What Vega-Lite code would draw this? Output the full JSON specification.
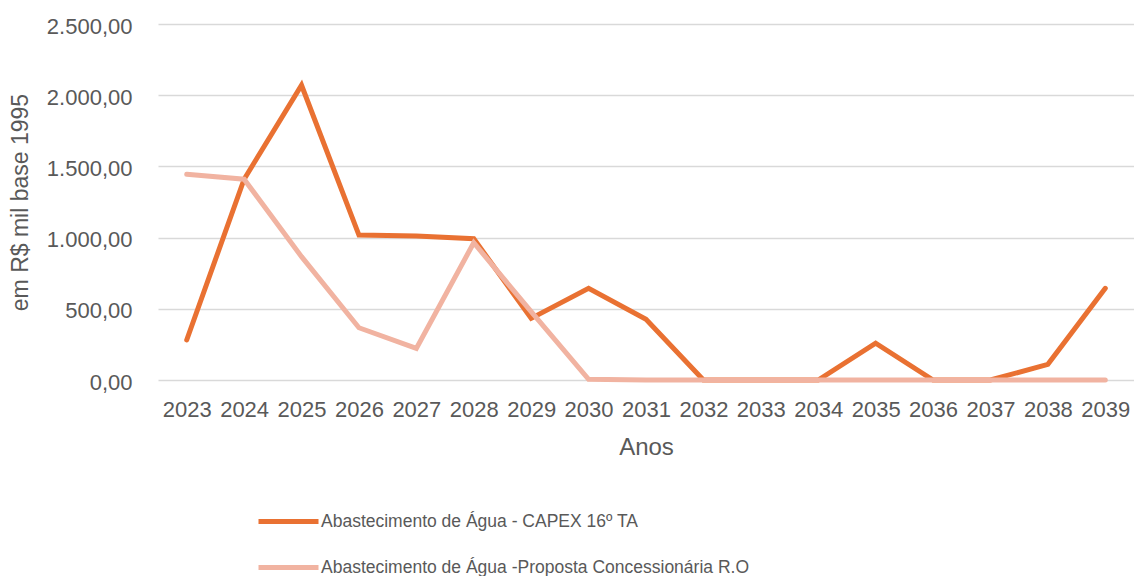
{
  "$schema": "https://vega.github.io/schema/vega-lite/v6.json",
  "width": 976,
  "height": 356,
  "autosize": {"type": "none"},
  "padding": {"left": 158, "top": 24, "right": 0, "bottom": 196},
  "background": "white",
  "config": {
    "font": "Liberation Sans",
    "view": {"stroke": null},
    "axis": {"labelColor": "#595959", "titleColor": "#595959", "labelFont": "Liberation Sans", "titleFont": "Liberation Sans", "titleFontWeight": "normal"}
  },
  "data": {
    "values": [
      {"ano": "2023", "serie": "Abastecimento de Água - CAPEX 16º TA", "valor": 281},
      {"ano": "2024", "serie": "Abastecimento de Água - CAPEX 16º TA", "valor": 1410},
      {"ano": "2025", "serie": "Abastecimento de Água - CAPEX 16º TA", "valor": 2070},
      {"ano": "2026", "serie": "Abastecimento de Água - CAPEX 16º TA", "valor": 1018},
      {"ano": "2027", "serie": "Abastecimento de Água - CAPEX 16º TA", "valor": 1011},
      {"ano": "2028", "serie": "Abastecimento de Água - CAPEX 16º TA", "valor": 992},
      {"ano": "2029", "serie": "Abastecimento de Água - CAPEX 16º TA", "valor": 433},
      {"ano": "2030", "serie": "Abastecimento de Água - CAPEX 16º TA", "valor": 644},
      {"ano": "2031", "serie": "Abastecimento de Água - CAPEX 16º TA", "valor": 426},
      {"ano": "2032", "serie": "Abastecimento de Água - CAPEX 16º TA", "valor": 0},
      {"ano": "2033", "serie": "Abastecimento de Água - CAPEX 16º TA", "valor": 0},
      {"ano": "2034", "serie": "Abastecimento de Água - CAPEX 16º TA", "valor": 0},
      {"ano": "2035", "serie": "Abastecimento de Água - CAPEX 16º TA", "valor": 258},
      {"ano": "2036", "serie": "Abastecimento de Água - CAPEX 16º TA", "valor": 0},
      {"ano": "2037", "serie": "Abastecimento de Água - CAPEX 16º TA", "valor": 0},
      {"ano": "2038", "serie": "Abastecimento de Água - CAPEX 16º TA", "valor": 110},
      {"ano": "2039", "serie": "Abastecimento de Água - CAPEX 16º TA", "valor": 644},
      {"ano": "2023", "serie": "Abastecimento de Água -Proposta Concessionária R.O", "valor": 1445},
      {"ano": "2024", "serie": "Abastecimento de Água -Proposta Concessionária R.O", "valor": 1410},
      {"ano": "2025", "serie": "Abastecimento de Água -Proposta Concessionária R.O", "valor": 866},
      {"ano": "2026", "serie": "Abastecimento de Água -Proposta Concessionária R.O", "valor": 367},
      {"ano": "2027", "serie": "Abastecimento de Água -Proposta Concessionária R.O", "valor": 222},
      {"ano": "2028", "serie": "Abastecimento de Água -Proposta Concessionária R.O", "valor": 964},
      {"ano": "2029", "serie": "Abastecimento de Água -Proposta Concessionária R.O", "valor": 480},
      {"ano": "2030", "serie": "Abastecimento de Água -Proposta Concessionária R.O", "valor": 5},
      {"ano": "2031", "serie": "Abastecimento de Água -Proposta Concessionária R.O", "valor": 0},
      {"ano": "2032", "serie": "Abastecimento de Água -Proposta Concessionária R.O", "valor": 0},
      {"ano": "2033", "serie": "Abastecimento de Água -Proposta Concessionária R.O", "valor": 0},
      {"ano": "2034", "serie": "Abastecimento de Água -Proposta Concessionária R.O", "valor": 0},
      {"ano": "2035", "serie": "Abastecimento de Água -Proposta Concessionária R.O", "valor": 0},
      {"ano": "2036", "serie": "Abastecimento de Água -Proposta Concessionária R.O", "valor": 0},
      {"ano": "2037", "serie": "Abastecimento de Água -Proposta Concessionária R.O", "valor": 0},
      {"ano": "2038", "serie": "Abastecimento de Água -Proposta Concessionária R.O", "valor": 0},
      {"ano": "2039", "serie": "Abastecimento de Água -Proposta Concessionária R.O", "valor": 0}
    ]
  },
  "mark": {"type": "line", "strokeWidth": 5, "strokeCap": "round", "strokeJoin": "miter"},
  "encoding": {
    "x": {
      "field": "ano", "type": "ordinal",
      "scale": {"type": "point", "padding": 0.5},
      "axis": {"title": "Anos", "labelAngle": 0, "labelFontSize": 22, "titleFontSize": 24, "ticks": false, "domain": false, "grid": false, "labelPadding": 19, "titlePadding": 15}
    },
    "y": {
      "field": "valor", "type": "quantitative",
      "scale": {"domain": [0, 2500]},
      "axis": {"title": "em R$ mil base 1995", "values": [0, 500, 1000, 1500, 2000, 2500], "format": ",.2f", "labelExpr": "replace(replace(replace(datum.label, ',', '#'), '.', ','), '#', '.')", "labelFontSize": 22, "titleFontSize": 23, "ticks": false, "domain": false, "gridColor": "#D9D9D9", "gridWidth": 1.5, "labelPadding": 26, "labelOffset": 2, "titlePadding": 14}
    },
    "color": {
      "field": "serie", "type": "nominal",
      "scale": {"domain": ["Abastecimento de Água - CAPEX 16º TA", "Abastecimento de Água -Proposta Concessionária R.O"], "range": ["#E97132", "#F1B3A1"]},
      "legend": {"title": null, "orient": "none", "legendX": 98, "legendY": 465, "direction": "vertical", "symbolType": "stroke", "symbolSize": 3600, "symbolStrokeWidth": 5, "labelFontSize": 17.5, "labelColor": "#595959", "labelFont": "Liberation Sans", "rowPadding": 3, "labelOffset": 0, "labelLimit": 700}
    }
  }
}
